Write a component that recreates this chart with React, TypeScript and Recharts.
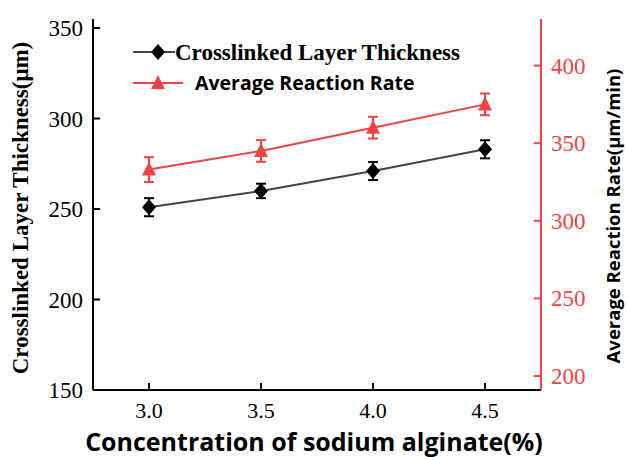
import { ErrorBar, Line, LineChart, ReferenceLine, XAxis, YAxis } from "recharts";

const concentration = [3.0, 3.5, 4.0, 4.5];
const thickness = [251, 260, 271, 283];
const thicknessErr = [5, 4, 5, 5];
const reactionRate = [333, 345, 360, 375];
const reactionRateErr = [8, 7, 7, 7];
const xTicks = [3.0, 3.5, 4.0, 4.5];
const leftTicks = [150, 200, 250, 300, 350];
const rightTicks = [200, 250, 300, 350, 400];

const xDomain = [2.75, 4.75];
const leftDomain = [150, 355];
const rightDomain = [191, 430];

const RED = "#f04444";
const serif = "'Liberation Serif', 'Times New Roman', serif";
const sans = "'Open Sans', sans-serif";
const GAP = 10; // distance from axis line to tick label
// inward tick length, in data units (~7px)
const TICK_DX = 0.032;
const TICK_DY = 3.9;

const data = concentration.map((c, i) => ({
  c,
  thickness: thickness[i],
  thicknessErr: thicknessErr[i],
  rate: reactionRate[i],
  rateErr: reactionRateErr[i],
}));

const Diamond = (props: any) => {
  const { cx, cy } = props;
  if (cx == null || cy == null) return null;
  return <path d={`M${cx},${cy - 8} L${cx + 7},${cy} L${cx},${cy + 8} L${cx - 7},${cy} Z`} fill="#000" />;
};

const Triangle = (props: any) => {
  const { cx, cy } = props;
  if (cx == null || cy == null) return null;
  return <path d={`M${cx},${cy - 8} L${cx + 7},${cy + 6} L${cx - 7},${cy + 6} Z`} fill={RED} />;
};

const BottomTick = ({ x, y, payload }: any) => (
  <text x={x} y={y + 18} textAnchor="middle" fontFamily={serif} fontSize={22} fill="#000">
    {Number(payload.value).toFixed(1)}
  </text>
);

const LeftTick = ({ x, y, payload }: any) => (
  <text x={x} y={y + 8} textAnchor="end" fontFamily={serif} fontSize={23} fill="#000">
    {payload.value}
  </text>
);

const RightTick = ({ x, y, payload }: any) => (
  <text x={x} y={y + 8} textAnchor="start" fontFamily={serif} fontSize={23} fill={RED}>
    {payload.value}
  </text>
);

// legend drawn as an overlay so it doesn't eat into the plot area
const ChartLegend = () => (
  <svg width={360} height={64} style={{ position: "absolute", left: 130, top: 36 }}>
    <line x1={3} y1={16} x2={45} y2={16} stroke="#444" strokeWidth={2} />
    <path d="M28,8 L35,16 L28,24 L21,16 Z" fill="#000" />
    <text x={45} y={24} fontFamily={serif} fontWeight="bold" fontSize={23} fill="#000">
      Crosslinked Layer Thickness
    </text>
    <line x1={3} y1={47} x2={53} y2={47} stroke={RED} strokeWidth={2} />
    <path d="M28,39 L35,53 L21,53 Z" fill={RED} />
    <text x={65} y={54} fontFamily={sans} fontWeight="bold" fontSize={19.5} fill="#000">
      Average Reaction Rate
    </text>
  </svg>
);

export default function App() {
  return (
    <div style={{ position: "absolute", left: 0, top: 0, width: 627, height: 457, background: "#fff" }}>
      <LineChart width={627} height={457} data={data} margin={{ top: 19, right: 0, bottom: 0, left: 0 }}>
        <XAxis
          dataKey="c"
          type="number"
          domain={xDomain}
          ticks={xTicks}
          height={67}
          tickSize={0}
          tickMargin={GAP}
          tickLine={false}
          axisLine={{ stroke: "#000", strokeWidth: 2 }}
          tick={<BottomTick />}
          label={{
            content: () => (
              <text x={314} y={451} textAnchor="middle" fontFamily={sans} fontWeight="bold" fontSize={25} fill="#000">
                Concentration of sodium alginate(%)
              </text>
            ),
          }}
        />
        <XAxis
          xAxisId="top"
          orientation="top"
          dataKey="c"
          type="number"
          domain={xDomain}
          height={0}
          tick={false}
          tickLine={false}
          axisLine={{ stroke: "#000", strokeWidth: 2 }}
        />
        <YAxis
          yAxisId="left"
          domain={leftDomain}
          ticks={leftTicks}
          allowDataOverflow
          width={93}
          tickSize={0}
          tickMargin={GAP}
          tickLine={false}
          axisLine={{ stroke: "#000", strokeWidth: 2 }}
          tick={<LeftTick />}
          label={{
            content: () => (
              <text
                x={28}
                y={208}
                transform="rotate(-90 28 208)"
                textAnchor="middle"
                fontFamily={serif}
                fontWeight="bold"
                fontSize={23}
                fill="#000"
              >
                Crosslinked Layer Thickness(μm)
              </text>
            ),
          }}
        />
        <YAxis
          yAxisId="right"
          orientation="right"
          domain={rightDomain}
          ticks={rightTicks}
          allowDataOverflow
          width={86}
          tickSize={0}
          tickMargin={GAP}
          tickLine={false}
          axisLine={{ stroke: RED, strokeWidth: 2 }}
          tick={<RightTick />}
          label={{
            content: () => (
              <text
                x={620}
                y={216}
                transform="rotate(-90 620 216)"
                textAnchor="middle"
                fontFamily={sans}
                fontWeight="bold"
                fontSize={18.5}
                fill="#000"
              >
                Average Reaction Rate(μm/min)
              </text>
            ),
          }}
        />

        {/* inward tick marks */}
        {xTicks.map((t) => (
          <ReferenceLine
            key={`xt${t}`}
            yAxisId="left"
            segment={[{ x: t, y: leftDomain[0] }, { x: t, y: leftDomain[0] + TICK_DY }]}
            stroke="#000"
            strokeWidth={2}
            ifOverflow="visible"
          />
        ))}
        {leftTicks.map((t) => (
          <ReferenceLine
            key={`lt${t}`}
            yAxisId="left"
            segment={[{ x: xDomain[0], y: t }, { x: xDomain[0] + TICK_DX, y: t }]}
            stroke="#000"
            strokeWidth={2}
            ifOverflow="visible"
          />
        ))}
        {rightTicks.map((t) => (
          <ReferenceLine
            key={`rt${t}`}
            yAxisId="right"
            segment={[{ x: xDomain[1] - TICK_DX, y: t }, { x: xDomain[1], y: t }]}
            stroke={RED}
            strokeWidth={2}
            ifOverflow="visible"
          />
        ))}

        <Line
          yAxisId="left"
          dataKey="thickness"
          stroke="#444"
          strokeWidth={2}
          dot={<Diamond />}
          activeDot={false}
          isAnimationActive={false}
        >
          <ErrorBar dataKey="thicknessErr" width={5} stroke="#000" strokeWidth={2} direction="y" />
        </Line>
        <Line
          yAxisId="right"
          dataKey="rate"
          stroke={RED}
          strokeWidth={2}
          dot={<Triangle />}
          activeDot={false}
          isAnimationActive={false}
        >
          <ErrorBar dataKey="rateErr" width={5} stroke={RED} strokeWidth={2} direction="y" />
        </Line>
      </LineChart>
      <ChartLegend />
    </div>
  );
}
